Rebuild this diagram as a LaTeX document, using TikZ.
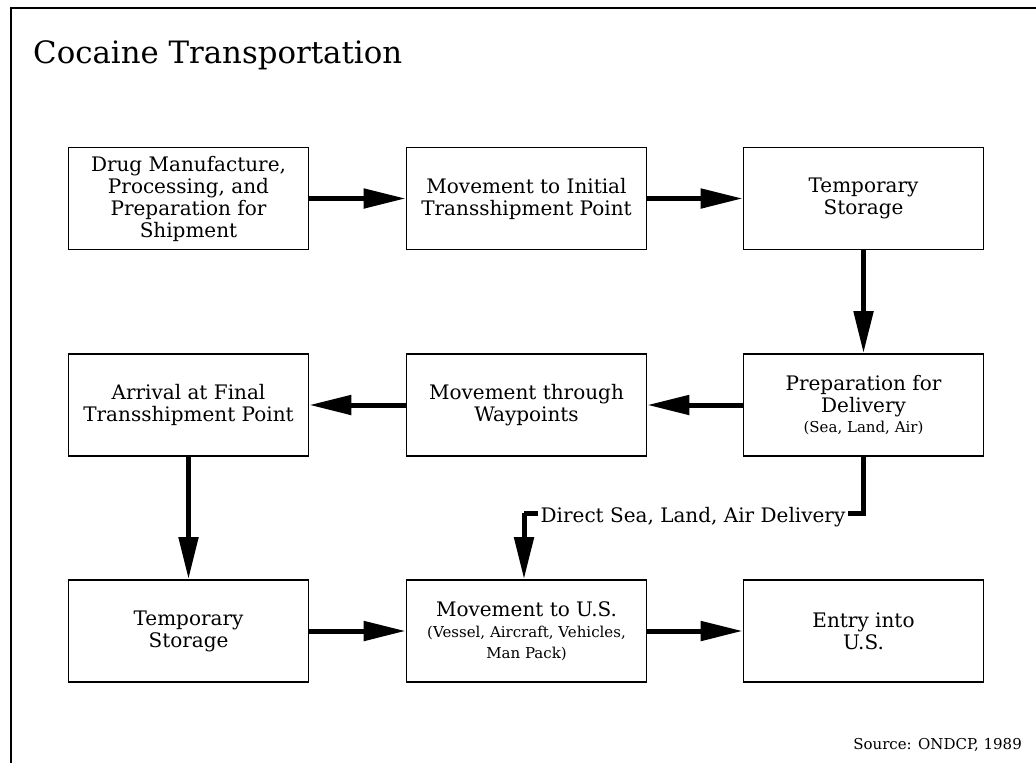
\documentclass[tikz,border=0pt]{standalone}
\usepackage{fontspec}
\setmainfont{DejaVu Serif}
\usetikzlibrary{arrows.meta}
\newcommand\subtxt[1]{{\fontsize{15}{19}\selectfont #1}}
\begin{document}
\begin{tikzpicture}[x=1pt,y=-1pt,
  box/.style={draw, line width=1.6pt, minimum width=240pt, minimum height=102pt,
    align=center, font=\fontsize{20}{22}\selectfont, inner sep=0pt},
  conn/.style={line width=5pt},
  arr/.style={line width=5pt, -{Triangle[length=42pt,width=19pt]}}]
\useasboundingbox (0,0) rectangle (1036,763);
% frame
\draw[line width=2pt] (11,763) -- (11,8) -- (1036,8);
% title
\node[anchor=base west, inner sep=0pt, font=\fontsize{30.8}{34}\selectfont] (title) at (33,63) {Cocaine Transportation};
% boxes
\node[box] (b1) at (188.5,198.5) {Drug Manufacture,\\Processing, and\\Preparation for\\Shipment};
\node[box] (b2) at (526.5,198.5) {Movement to Initial\\Transshipment Point};
\node[box] (b3) at (863.5,198.5) {Temporary\\Storage};
\node[box] (b4) at (188.5,405) {Arrival at Final\\Transshipment Point};
\node[box] (b5) at (526.5,405) {Movement through\\Waypoints};
\node[box] (b6) at (863.5,405) {Preparation for\\Delivery\\[-2pt]\subtxt{(Sea, Land, Air)}};
\node[box] (b7) at (188.5,631) {Temporary\\Storage};
\node[box] (b8) at (526.5,631) {Movement to U.S.\\[-1pt]\subtxt{(Vessel, Aircraft, Vehicles,}\\[-1pt]\subtxt{Man Pack)}};
\node[box] (b9) at (863.5,631) {Entry into\\U.S.};
% arrows
\draw[arr] (b1) -- (b2);
\draw[arr] (b2) -- (b3);
\draw[arr] (b3) -- (b6);
\draw[arr] (b6) -- (b5);
\draw[arr] (b5) -- (b4);
\draw[arr] (b4) -- (b7);
\draw[arr] (b7) -- (b8);
\draw[arr] (b8) -- (b9);
% direct delivery
\coordinate (c1) at (863.5,513);
\coordinate (c2) at (524,513);
\draw[conn, line join=miter] (b6.south) -- (c1) -- (c2);
\draw[arr] (c2) -- (c2 |- b8.north);
\node[fill=white, inner xsep=3pt, inner ysep=1pt, anchor=base, font=\fontsize{20}{22}\selectfont] (dl) at (693,522) {Direct Sea, Land, Air Delivery};
% source
\node[anchor=base east, inner sep=0pt, font=\fontsize{15}{18}\selectfont] (src) at (1022,749) {Source: ONDCP, 1989};
\end{tikzpicture}
\end{document}
